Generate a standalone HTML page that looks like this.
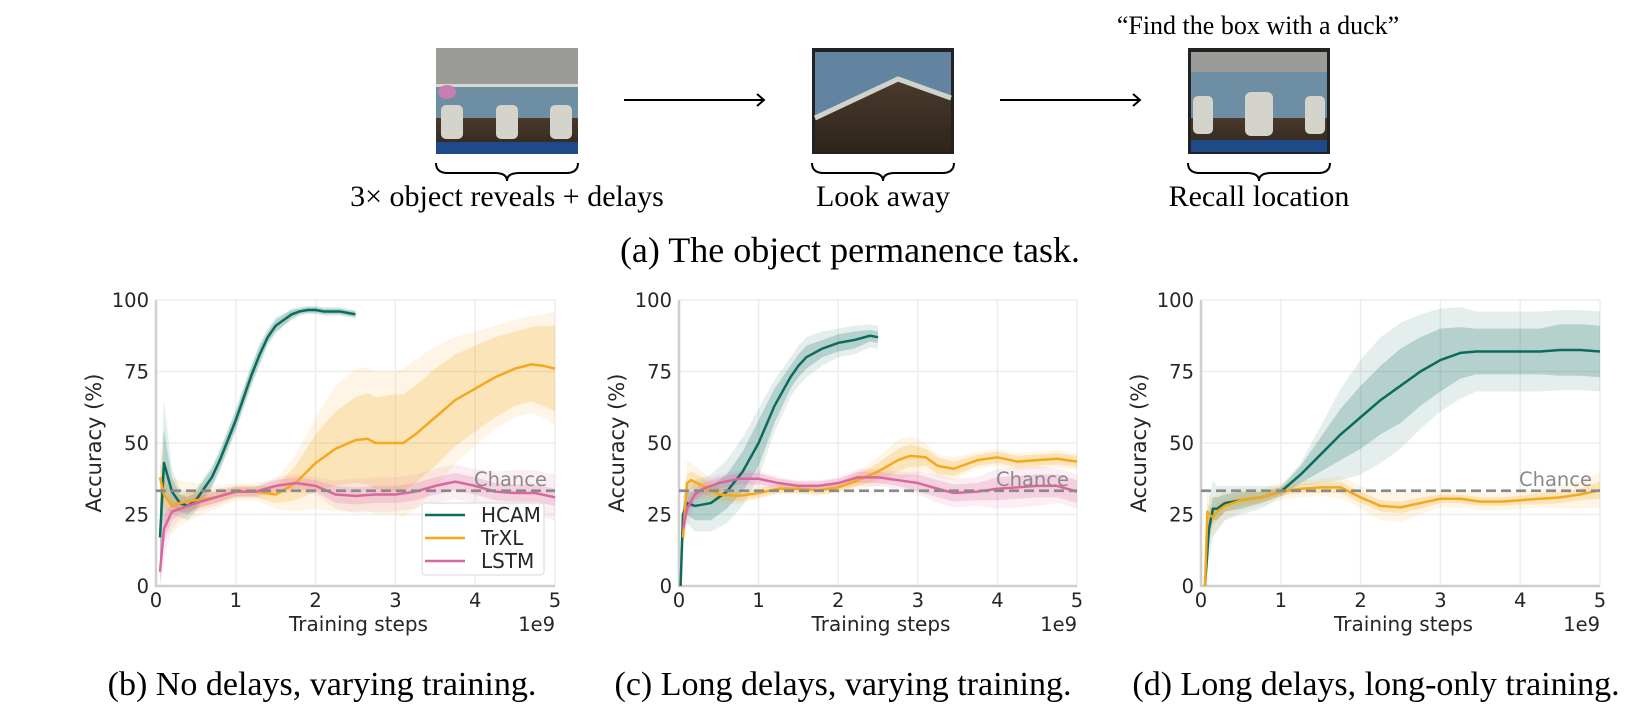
<!DOCTYPE html>
<html><head><meta charset="utf-8"><style>
body{margin:0;background:#fff;width:1650px;height:713px;overflow:hidden;position:relative}
svg{position:absolute;left:0;top:0}
</style></head><body>
<svg id="fig" width="1650" height="713" viewBox="0 0 1650 713" font-family="'Liberation Serif', serif">
<defs>
<linearGradient id="floor" x1="0" y1="0" x2="0" y2="1"><stop offset="0" stop-color="#4a3a2c"/><stop offset="1" stop-color="#2e241b"/></linearGradient>
</defs>
<text x="1258" y="34" font-size="26" text-anchor="middle">“Find the box with a duck”</text>
<g>
<rect x="436" y="48" width="142" height="106" fill="#6e8ea3"/>
<rect x="436" y="48" width="142" height="36" fill="#9b9b98"/>
<rect x="436" y="84" width="142" height="3" fill="#d8d8d0"/>
<rect x="436" y="118" width="142" height="36" fill="url(#floor)"/>
<ellipse cx="447" cy="92" rx="9" ry="7" fill="#c77fb0"/>
<rect x="441" y="105" width="22" height="34" rx="5" fill="#d4d4cc"/>
<rect x="496" y="105" width="22" height="34" rx="5" fill="#d4d4cc"/>
<rect x="550" y="105" width="22" height="34" rx="5" fill="#d4d4cc"/>
<rect x="436" y="142" width="142" height="12" fill="#1e4a8a"/>
</g>
<g>
<rect x="812" y="48" width="142" height="106" fill="#222"/>
<rect x="815" y="52" width="136" height="100" fill="#6384a0"/>
<polygon points="815,120 898,80 951,100 951,152 815,152" fill="url(#floor)"/>
<polyline points="815,118 898,79 951,98" stroke="#cfd3cc" stroke-width="5" fill="none"/>
</g>
<g>
<rect x="1188" y="48" width="142" height="106" fill="#222"/>
<rect x="1191" y="52" width="136" height="100" fill="#6e8ea3"/>
<rect x="1191" y="52" width="136" height="20" fill="#9b9b98"/>
<rect x="1191" y="118" width="136" height="34" fill="url(#floor)"/>
<rect x="1193" y="96" width="20" height="38" rx="5" fill="#d4d4cc"/>
<rect x="1245" y="92" width="28" height="44" rx="6" fill="#d4d4cc"/>
<rect x="1305" y="96" width="20" height="38" rx="5" fill="#d4d4cc"/>
<rect x="1191" y="140" width="136" height="12" fill="#1e4a8a"/>
</g>
<g stroke="#000" stroke-width="2" fill="none">
<line x1="624" y1="100" x2="763" y2="100"/><polyline points="757,94 764,100 757,106"/>
<line x1="1000" y1="100" x2="1139" y2="100"/><polyline points="1133,94 1140,100 1133,106"/>
</g>
<g stroke="#000" stroke-width="2" fill="none">
<path d="M436,163 q0,10 12,10 h47 q12,0 12,8 q0,-8 12,-8 h47 q12,0 12,-10"/>
<path d="M812,163 q0,10 12,10 h47 q12,0 12,8 q0,-8 12,-8 h47 q12,0 12,-10"/>
<path d="M1188,163 q0,10 12,10 h47 q12,0 12,8 q0,-8 12,-8 h47 q12,0 12,-10"/>
</g>
<g font-size="30" text-anchor="middle">
<text x="507" y="206">3×  object  reveals + delays</text>
<text x="883" y="206">Look  away</text>
<text x="1259" y="206">Recall  location</text>
<text x="850" y="262" font-size="36">(a) The object permanence task.</text>
<text x="322" y="695" font-size="34">(b) No delays, varying training.</text>
<text x="843" y="695" font-size="34">(c) Long delays, varying training.</text>
<text x="1376" y="695" font-size="34">(d) Long delays, long-only training.</text>
</g>
<g id="plots"></g>
</svg>
<script>
// Panel B data
const bHcamX=[0.05,0.1,0.15,0.2,0.3,0.4,0.5,0.6,0.7,0.8,0.9,1.0,1.1,1.2,1.3,1.4,1.5,1.6,1.7,1.8,1.9,2.0,2.1,2.2,2.3,2.4,2.5];
const bHcamY=[17,43,38,33,29,28,30,34,38,44,51,58,66,74,81,87,91,93,95,96,96.5,96.5,96,96,96,95.5,95];
const bHcamIn=[10,12,8,5,3,3,3,3,3,3,3,3,3,3,3,2,2,2,1.5,1,1,1,1,1,1,1,1];
const bHcamOut=[15,22,15,8,5,5,4,4,4,4,4,4,4,4,4,3,3,2,2,1.5,1.5,1.5,1.5,1.5,1.5,1.5,1.5];
const bTrxlX=[0.05,0.1,0.2,0.3,0.5,0.75,1.0,1.25,1.5,1.75,2.0,2.25,2.5,2.65,2.75,3.0,3.1,3.25,3.5,3.75,4.0,4.25,4.5,4.7,4.85,5];
const bTrxlY=[38,32,28,29,30,31,33,33,32,36,43,48,51,51.5,50,50,50,53,59,65,69,73,76,77.5,77,76];
const bTrxlIn=[5,5,3,3,3,2,2,2,3,6,10,13,15,16,16,17,17,17,17,16,15,14,13,13,14,15];
const bTrxlOut=[12,12,10,8,6,4,3,3,5,10,16,22,25,25,25,25,26,26,25,22,20,18,17,17,18,20];
const bLstmX=[0.05,0.1,0.2,0.3,0.5,0.75,1.0,1.25,1.5,1.75,2.0,2.25,2.5,2.75,3.0,3.25,3.5,3.75,4.0,4.25,4.5,4.75,5];
const bLstmY=[5,20,26,27,29,31,33,33,35,36,35,32,31.5,32,32,33,35,36.5,35,33,32.5,32.5,31];
const bLstmIn=[5,5,3,2,2,2,1.5,1.5,2,2,2,3,3,3,3,3,3,3,3,3,3,3,3];
const bLstmOut=[10,10,6,4,3,3,2,2,3,3,3,5,6,6,6,6,6,6,6,7,8,8,8];
// Panel C data
const cHcamX=[0.02,0.05,0.1,0.2,0.4,0.6,0.8,1.0,1.2,1.4,1.5,1.6,1.8,2.0,2.2,2.4,2.5];
const cHcamY=[0,25,29,28,29,33,40,50,63,73,77,80,83,85,86,87.5,87];
const cHcamIn=[0,3,4,5,6,6,7,8,6,4,4,4,3,3,3,2,2];
const cHcamOut=[0,6,7,9,10,11,12,12,9,7,7,7,6,5,5,4,4];
const cTrxlX=[0.05,0.1,0.15,0.3,0.5,0.75,1.0,1.25,1.5,1.75,2.0,2.25,2.5,2.75,2.9,3.1,3.25,3.45,3.75,4.0,4.25,4.5,4.75,5];
const cTrxlY=[17,36,37,35,32,31.5,32.5,34,34,33.5,34.5,37,40,44,45.5,45,42,41,44,45,43.5,44,44.5,43.5];
const cTrxlIn=[3,3,3,3,2,2,1.5,1.5,1.5,1.5,1.5,2,3,4,4,3,3,2.5,2,2,2,2,2,2];
const cTrxlOut=[10,8,6,5,3,3,2,2,2,2,2,3,5,7,7,5,4,4,3,3,3,3,3,3];
const cLstmX=[0.05,0.1,0.2,0.3,0.5,0.75,1.0,1.25,1.5,1.75,2.0,2.25,2.5,2.75,3.0,3.25,3.45,3.75,4.0,4.25,4.5,4.75,5];
const cLstmY=[20,27,32,34,36,37.5,37.5,36,35,35,36,38,38,37,36,34,32.5,33,34,34.5,35,35,33];
const cLstmIn=[3,3,2,2,2,2,2,1.5,1.5,1.5,1.5,2,2,2,3,3,3,3,4,4,4,4,4];
const cLstmOut=[6,6,4,3,3,3,3,2,2,2,2,3,3,3,4,5,5,5,7,7,7,6,6];
// Panel D data
const dHcamX=[0.05,0.1,0.15,0.2,0.3,0.5,0.75,1.0,1.25,1.5,1.75,2.0,2.25,2.5,2.75,3.0,3.25,3.45,3.75,4.0,4.25,4.5,4.75,5];
const dHcamY=[0,20,27,27,29,30,31,33,39,46,53,59,65,70,75,79,81.5,82,82,82,82,82.5,82.5,82];
const dHcamIn=[0,5,4,4,3,3,2,1.5,3,6,9,11,12,13,12,11,9,8,8,8,8,9,9,9];
const dHcamOut=[0,10,10,8,6,5,4,2,4,10,16,20,22,22,20,18,16,14,14,14,14,14,14,14];
const dTrxlX=[0.05,0.08,0.1,0.15,0.2,0.3,0.5,0.75,1.0,1.25,1.5,1.75,2.0,2.25,2.5,2.75,3.0,3.25,3.5,3.75,4.0,4.25,4.5,4.75,5];
const dTrxlY=[0,26,25,24,26,28,30,31,33,34,34.5,34.5,31,28,27.5,29,30.5,30.5,29.5,29.5,30,30.5,31,32,33.5];
const dTrxlIn=[3,3,3,3,3,2,2,2,1.5,1.5,2,2,2,2,2,2,1.5,1.5,1.5,1.5,1.5,2,2,2,3];
const dTrxlOut=[10,8,7,7,6,5,4,3,3,3,3,4,4,5,5,4,3,3,3,3,3,3,4,5,6];
const xTicks=[0,1,2,3,4,5];
const yTicks=[0,25,50,75,100];
const chanceLevel=33.3;

const NS='http://www.w3.org/2000/svg';
const root=document.getElementById('plots');
const COL={hcam:'#0d6b5e',trxl:'#f5a81c',lstm:'#d9679f'};
function mk(tag,attrs,parent){const e=document.createElementNS(NS,tag);for(const k in attrs)e.setAttribute(k,attrs[k]);parent.appendChild(e);return e;}

function panel(name,x0,x5,series,legend){
  const y0=586,y100=300;
  const sx=v=>x0+(x5-x0)*v/5, sy=v=>y0+(y100-y0)*v/100;
  const g=mk('g',{'font-family':"'DejaVu Sans', sans-serif"},root);
  
  
  xTicks.forEach(t=>{const l=mk('line',{x1:sx(t),x2:sx(t),y1:y100,y2:y0,stroke:'#ededed','stroke-width':1.5},g);
    
    const tx=mk('text',{x:sx(t),y:y0+21,'font-size':19.5,'text-anchor':'middle',fill:'#262626'},g);tx.textContent=t;
    });
  yTicks.forEach(t=>{const l=mk('line',{x1:x0,x2:x5,y1:sy(t),y2:sy(t),stroke:'#ededed','stroke-width':1.5},g);
    
    const tx=mk('text',{x:x0-7,y:sy(t)+7,'font-size':19.5,'text-anchor':'end',fill:'#262626'},g);tx.textContent=t;
    });
  const sp=mk('path',{d:`M${x0},${y100}V${y0}H${x5}`,stroke:'#cfcfcf','stroke-width':2.5,fill:'none'},g);
  
  const yt=mk('text',{transform:`translate(${x0-55},${(y0+y100)/2}) rotate(-90)`,'font-size':21,'text-anchor':'middle',fill:'#262626'},g);yt.textContent='Accuracy (%)';
  
  const xt=mk('text',{x:(x0+x5)/2+3,y:y0+45,'font-size':20,'text-anchor':'middle',fill:'#262626'},g);xt.textContent='Training steps';
  
  const ex=mk('text',{x:x5,y:y0+45,'font-size':19.5,'text-anchor':'end',fill:'#262626'},g);ex.textContent='1e9';
  
  series.forEach(s=>{
    [[s.out,0.11],[s.inn,0.22]].forEach(([w,op])=>{
      const up=s.x.map((v,i)=>`${sx(v)},${sy(Math.min(100,s.y[i]+w[i]))}`);
      const lo=s.x.map((v,i)=>`${sx(v)},${sy(Math.max(0,s.y[i]-w[i]))}`).reverse();
      const b=mk('polygon',{points:up.concat(lo).join(' '),fill:COL[s.k],opacity:op},g);
      
    });
  });
  series.forEach(s=>{
    const p=mk('polyline',{points:s.x.map((v,i)=>`${sx(v)},${sy(s.y[i])}`).join(' '),fill:'none',stroke:COL[s.k],'stroke-width':2.5,'stroke-linejoin':'round'},g);
    
  });
  const ch=mk('line',{x1:x0,x2:x5,y1:sy(chanceLevel),y2:sy(chanceLevel),stroke:'#8a8a8a','stroke-width':2.8,'stroke-dasharray':'10,5'},g);
  
  const ct=mk('text',{x:x5-8,y:sy(chanceLevel)-5,'font-size':19.5,'text-anchor':'end',fill:'#8a8a8a'},g);ct.textContent='Chance';
  
  if(legend){
    const lg=mk('g',{},g);
    
    mk('rect',{x:422,y:503,width:122,height:72,rx:3,fill:'#fff',stroke:'#ddd','stroke-width':1.2,opacity:0.95},lg);
    [['hcam','HCAM'],['trxl','TrXL'],['lstm','LSTM']].forEach(([k,n],i)=>{
      const e=mk('g',{},lg);
      
      mk('line',{x1:425,x2:465,y1:515+i*23,y2:515+i*23,stroke:COL[k],'stroke-width':2.5},e);
      const t=mk('text',{x:481,y:522+i*23,'font-size':20,fill:'#262626'},e);t.textContent=n;
    });
  }
}
panel('panel-b-chart',156,555,[
 {k:'hcam',x:bHcamX,y:bHcamY,inn:bHcamIn,out:bHcamOut},
 {k:'trxl',x:bTrxlX,y:bTrxlY,inn:bTrxlIn,out:bTrxlOut},
 {k:'lstm',x:bLstmX,y:bLstmY,inn:bLstmIn,out:bLstmOut}],true);
panel('panel-c-chart',679,1077,[
 {k:'hcam',x:cHcamX,y:cHcamY,inn:cHcamIn,out:cHcamOut},
 {k:'trxl',x:cTrxlX,y:cTrxlY,inn:cTrxlIn,out:cTrxlOut},
 {k:'lstm',x:cLstmX,y:cLstmY,inn:cLstmIn,out:cLstmOut}],false);
panel('panel-d-chart',1201,1600,[
 {k:'hcam',x:dHcamX,y:dHcamY,inn:dHcamIn,out:dHcamOut},
 {k:'trxl',x:dTrxlX,y:dTrxlY,inn:dTrxlIn,out:dTrxlOut}],false);
</script>
</body></html>
